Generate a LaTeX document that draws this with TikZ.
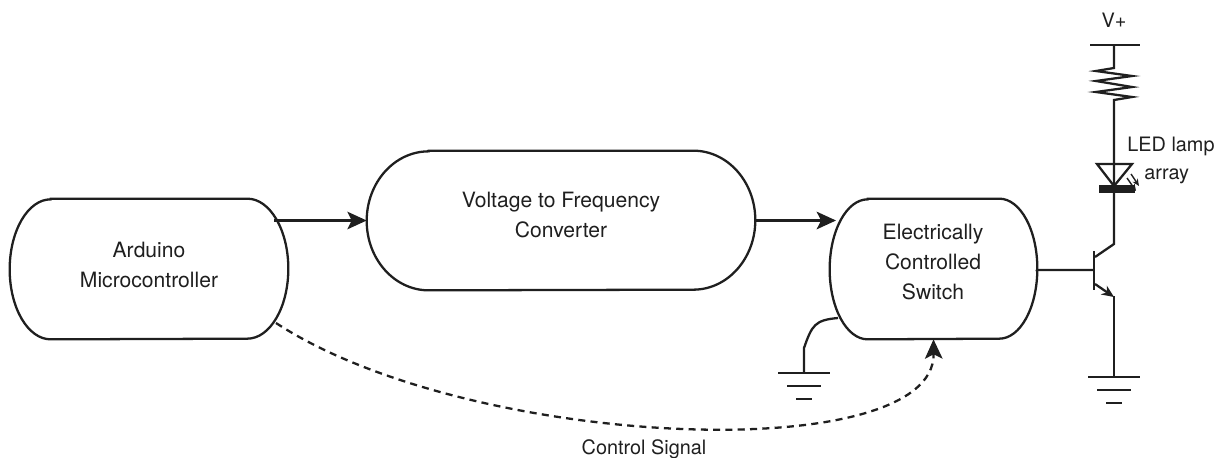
\documentclass[tikz,border=0pt]{standalone}
\usepackage{fontspec}
\setmainfont{TeX Gyre Heros}
\usetikzlibrary{arrows.meta,calc}
\definecolor{inkline}{gray}{0.12}
\tikzset{
  wire/.style={line width=1.3pt,draw=inkline},
  link/.style={line width=1.3pt,draw=inkline,fill=inkline,-{Stealth[length=11pt,width=10pt,inset=2.5pt]}},
  blockbox/.style={align=center,inner sep=0pt,text=inkline,font=\fontsize{12}{16.8}\selectfont},
  note/.style={inner sep=0pt,text=inkline,font=\fontsize{11.3}{14}\selectfont},
  flash/.style={line width=0.8pt,draw=inkline,-{Stealth[length=4pt,width=3.5pt]}},
}
% outline of a block: name, x radius, y radius of its ends
\newcommand{\blockline}[3]{
  \draw[wire] ($(#1.north west)+(#2,0)$) -- ($(#1.north east)-(#2,0)$) arc[start angle=-90,end angle=90,x radius=#2,y radius=#3] -- ($(#1.south west)+(#2,0)$) arc[start angle=90,end angle=270,x radius=#2,y radius=#3] -- cycle;
}
% three bars of an earth, hung from a coordinate
\newcommand{\earthbars}[1]{
  \draw[wire] ($(#1)+(-26,0)$) -- ($(#1)+(26,0)$);
  \draw[wire] ($(#1)+(-17,13)$) -- ($(#1)+(17,13)$);
  \draw[wire] ($(#1)+(-8,26)$) -- ($(#1)+(8,26)$);
}
\begin{document}
\begin{tikzpicture}[x=0.02cm,y=-0.02cm]
  \useasboundingbox (0,0) rectangle (1220,457);
  \node[blockbox,minimum width=5.56cm,minimum height=2.8cm] (arduino) at (149,269) {};
  \node[blockbox,minimum width=7.76cm,minimum height=2.78cm] (vtof) at (561,220.5) {};
  \node[blockbox,minimum width=4.14cm,minimum height=2.8cm] (switch) at (933.5,269) {};
  \node[blockbox] (arduinotext) at (149,265) {Arduino\\Microcontroller};
  \node[blockbox] (vtoftext) at (561,215) {Voltage to Frequency\\Converter};
  \node[blockbox] (switchtext) at (933,262) {Electrically\\Controlled\\Switch};
  \blockline{arduino}{41}{70}
  \blockline{vtof}{62}{69.5}
  \blockline{switch}{38}{70}
  \coordinate (ardout) at (274,220.5);
  \coordinate (swin) at (836,220.5);
  \draw[link] (ardout) -- (vtof.west);
  \draw[link] (vtof.east) -- (swin);
  % dashed return
  \coordinate (ctrlfrom) at (276,323);
  \draw[line width=1.3pt,draw=inkline,dash pattern=on 4pt off 3pt,-{Stealth[length=11pt,width=10pt,inset=2.5pt]}] (ctrlfrom) .. controls (470,450) and (935,468) .. (switch.south);
  \node[note] (ctrllabel) at (644,449) {Control Signal};
  % right hand circuit
  \coordinate (vbar) at (1115,45);
  \draw[wire] ($(vbar)+(-25,0)$) -- ($(vbar)+(25,0)$);
  \node[note] (vlabel) at (1114,20) {V+};
  \coordinate (resa) at (1114,68);
  \coordinate (resb) at (1114,100);
  \draw[wire] (1114,45) -- (resa) -- (1096,71) -- (1132,76) -- (1096,81) -- (1132,87) -- (1096,92) -- (1132,97) -- (resb) -- (1114,164);
  \coordinate (ledtip) at (1114,186);
  \draw[wire] (1097,164) -- (1132,164) -- (ledtip) -- cycle;
  \draw[line width=4pt,draw=inkline] (1099,189) -- (1135,189);
  \draw[wire] (1114,164) -- (ledtip) -- (1114,244) -- (1095,257);
  \draw[flash] (1127,178) -- (1136,191);
  \draw[flash] (1131,174) -- (1139,186);
  \node[note,anchor=west] (ledone) at (1127,146) {LED lamp};
  \node[note,anchor=west] (ledtwo) at (1144,176) {array};
  % transistor
  \coordinate (base) at (1094,270);
  \draw[wire] (switch.east) -- (1037,270) -- (base);
  \draw[wire] (1094,251) -- (1094,290);
  \draw[wire,-{Stealth[length=7pt,width=6pt]}] (1095,284) -- (1114,297);
  \coordinate (earthb) at (1114,377);
  \draw[wire] (1114,296) -- (earthb);
  \earthbars{earthb}
  \coordinate (eartha) at (804,373);
  \draw[wire] (838,318) .. controls (815,320) and (812,325) .. (804,348) -- (eartha);
  \earthbars{eartha}
\end{tikzpicture}
\end{document}
